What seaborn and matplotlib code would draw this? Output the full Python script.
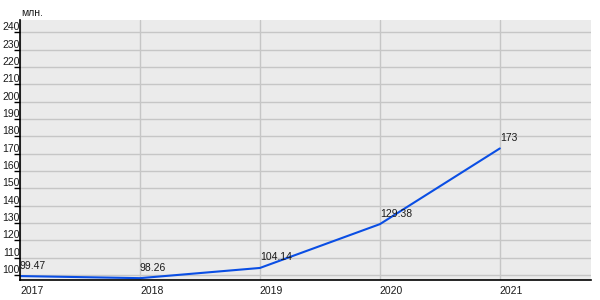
import matplotlib
matplotlib.use("Agg")
import matplotlib.pyplot as plt
import seaborn as sns
import pandas as pd

years = [2017, 2018, 2019, 2020, 2021]
values = [99.47, 98.26, 104.14, 129.38, 173]
labels = ["99.47", "98.26", "104.14", "129.38", "173"]
yticks = list(range(100, 250, 10))

sns.set_theme(style="whitegrid")
plt.rcParams['font.family'] = ['Liberation Sans', 'DejaVu Sans']

df = pd.DataFrame({"year": years, "value": values})

fig = plt.figure(figsize=(6, 3), dpi=100)
ax = fig.add_axes([20/600, 1-280/300, (591-20)/600, 260/300])
ax.set_facecolor("#EBEBEB")

sns.lineplot(data=df, x="year", y="value", ax=ax, color="#0A4EE4", linewidth=1.5)

for x, y, t in zip(years, values, labels):
    ax.annotate(t, (x, y), xytext=(0, 4), textcoords="offset points",
                ha="left", va="bottom", fontsize=7.5, color="#1A1A1A")

ax.set_xlim(2017, 2021.76)
ax.set_ylim(97.2, 247)
ax.set_xticks(years)
ax.set_xticklabels([str(y) for y in years], ha="left")
ax.set_yticks(yticks)
ax.set_yticklabels([str(v) for v in yticks], va="bottom")
ax.grid(True, color="#C6C6C6", linewidth=1)
ax.set_axisbelow(True)

for s in ["top", "right"]:
    ax.spines[s].set_visible(False)
for s in ["left", "bottom"]:
    ax.spines[s].set_visible(True)
    ax.spines[s].set_color("black")
    ax.spines[s].set_linewidth(1.2)

ax.tick_params(axis="y", direction="out", length=4, width=1, color="black",
               pad=-4, labelsize=7.5, labelcolor="#1A1A1A", left=True)
ax.tick_params(axis="x", length=0, pad=4, labelsize=7.5, labelcolor="#1A1A1A")
ax.set_xlabel("")
ax.set_ylabel("")

fig.text(21/600, 1-13/300, "млн.", fontsize=7.5, color="#1A1A1A", ha="left", va="center")

fig.savefig("out.png", dpi=100, facecolor="white")
